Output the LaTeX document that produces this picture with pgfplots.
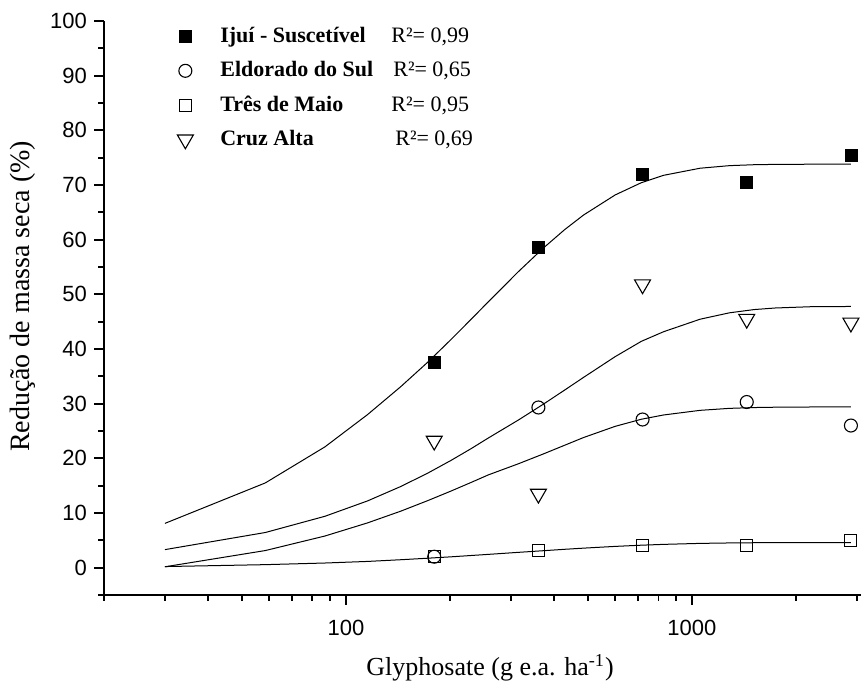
\documentclass[border=0pt]{standalone}
\usepackage{fontspec}
\setmainfont{Liberation Serif}
\setsansfont{Liberation Sans}
\usepackage{pgfplots}
\pgfplotsset{compat=1.18}
\usetikzlibrary{calc}

\begin{document}
\begin{tikzpicture}
\begin{axis}[
  name=ax,
  xmode=log,
  scale only axis,
  width=378.5pt, height=287pt,
  xmin=20, xmax=3080,
  ymin=-5, ymax=100,
  axis lines*=left,
  axis line style={line width=1pt},
  tick align=outside,
  major tick length=5pt,
  minor tick length=3pt,
  every tick/.style={black, line width=0.9pt},
  xtick={100,1000},
  xticklabels={100,1000},
  minor xtick={20,30,40,50,60,70,80,90,200,300,400,500,600,700,800,900,2000,3000},
  ytick={0,10,...,100},
  minor ytick={-5,5,...,95},
  /pgf/number format/assume math mode=true,
  ticklabel style={font=\fontsize{11}{13}\selectfont\sffamily},
  xticklabel style={yshift=-4pt},
  xlabel={Glyphosate (g e.a. ha\textsuperscript{-1})},
  ylabel={Redução de massa seca (\%)},
  xlabel style={font=\fontsize{13}{15}\selectfont, at={(axis description cs:0.51,0)}, anchor=center, yshift=-36.5pt},
  ylabel style={font=\fontsize{14}{16}\selectfont, at={(axis description cs:0,0.52)}, anchor=center, yshift=40.5pt},
  legend style={draw=none, fill=none, inner sep=0pt,
    at={(rel axis cs:0,1)}, anchor=north west, xshift=36.5pt, yshift=-1pt,
    row sep=4.0pt, font=\fontsize{11}{13}\selectfont},
  legend cell align=left,
  clip=false,
]
% pontos observados
\addplot[only marks, mark=square*, mark size=3pt, black] coordinates {
  (180,37.5) (360,58.6) (720,71.9) (1440,70.4) (2880,75.5)
};
\addlegendentry{\hspace{11.5pt}\makebox[85.5pt][l]{\textbf{Ijuí - Suscetível}}R²= 0,99}
\addplot[only marks, mark=o, mark size=3.25pt, black, mark options={line width=0.55pt}] coordinates {
  (180,2.0) (360,29.3) (720,27.1) (1440,30.3) (2880,26.0)
};
\addlegendentry{\hspace{11.5pt}\makebox[86.5pt][l]{\textbf{Eldorado do Sul}}R²= 0,65}
\addplot[only marks, mark=square, mark size=3pt, black, mark options={line width=0.55pt}] coordinates {
  (180,2.0) (360,3.1) (720,4.0) (1440,4.0) (2880,5.0)
};
\addlegendentry{\hspace{11.5pt}\makebox[85.5pt][l]{\textbf{Três de Maio}}R²= 0,95}
\addplot[only marks, mark=triangle, mark size=4.6pt, black, mark options={rotate=180, line width=0.55pt}] coordinates {
  (180,23.2) (360,13.5) (720,51.8) (1440,45.5) (2880,44.8)
};
\addlegendentry{\hspace{11.5pt}\makebox[87.5pt][l]{\textbf{Cruz Alta}}R²= 0,69}

% curvas ajustadas
\addplot[black, line width=0.5pt, forget plot] coordinates {
  (30,8.10) (58.5,15.5) (87,22.1) (115.5,28.0) (144,33.1) (172.5,37.6) (201,41.7)
  (229.5,45.36) (258,48.64) (315,54.14) (372,58.46) (429,61.85) (486,64.50)
  (600,68.18) (714,70.42) (828,71.77) (1056,73.07) (1284,73.54) (1512,73.71)
  (1740,73.77) (2196,73.80) (2880,73.80)
};
\addplot[black, line width=0.5pt, forget plot] coordinates {
  (30,3.30) (58.5,6.43) (87,9.40) (115.5,12.21) (144,14.84) (172.5,17.30) (201,19.60)
  (229.5,21.73) (258,23.72) (315,27.0) (372,29.9) (429,32.5) (486,34.8)
  (600,38.6) (714,41.4) (828,43.16) (1056,45.45) (1284,46.62) (1512,47.21)
  (1740,47.50) (2196,47.73) (2880,47.78)
};
\addplot[black, line width=0.5pt, forget plot] coordinates {
  (30,0.16) (58.5,3.13) (87,5.79) (115.5,8.19) (144,10.33) (172.5,12.27) (201,14.00)
  (229.5,15.56) (258,16.97) (315,19.0) (372,20.8) (429,22.4) (486,23.8)
  (600,25.85) (714,27.15) (828,27.93) (1056,28.78) (1284,29.14) (1512,29.29)
  (1740,29.35) (2196,29.39) (2880,29.40)
};
\addplot[black, line width=0.5pt, forget plot] coordinates {
  (30,0.2) (58.5,0.55) (87,0.85) (115.5,1.14) (144,1.45) (172.5,1.73) (201,1.98)
  (229.5,2.22) (258,2.43) (315,2.80) (372,3.10) (429,3.36) (486,3.57)
  (600,3.89) (714,4.11) (828,4.26) (1056,4.44) (1284,4.52) (1512,4.56)
  (1740,4.58) (2196,4.60) (2880,4.60)
};
\end{axis}
\pgfresetboundingbox
\useasboundingbox ($(ax.south west)+(-52pt,-45.5pt)$) rectangle ($(ax.north east)+(0pt,10.5pt)$);
\end{tikzpicture}
\end{document}
